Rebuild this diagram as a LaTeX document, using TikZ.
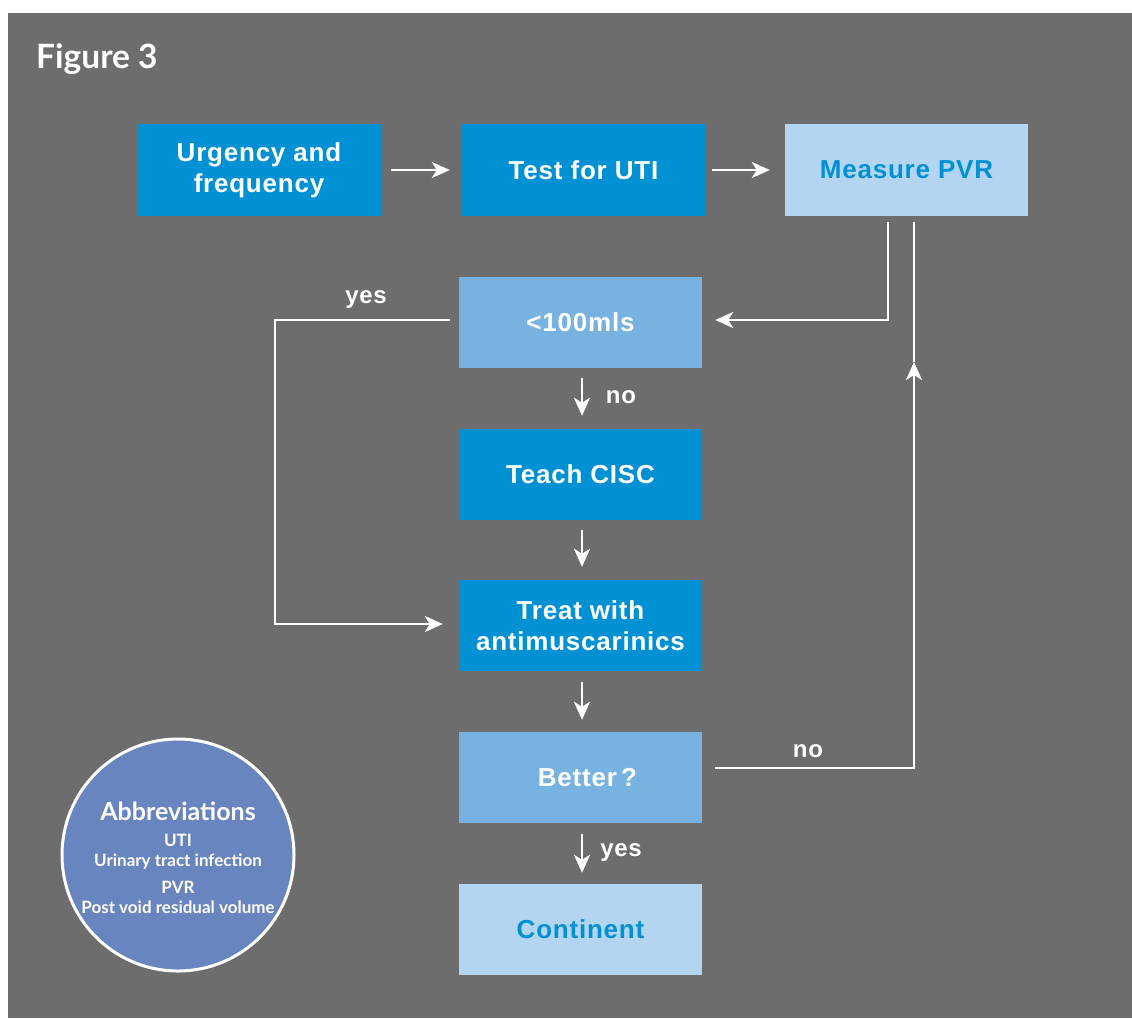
\documentclass[tikz,border=0pt]{standalone}
\usepackage{fontspec}
\usetikzlibrary{arrows.meta,calc}
\newfontfamily\boxfont[LetterSpace=3]{Liberation Sans}
\newfontfamily\latofont{Lato}
\definecolor{bggray}{HTML}{6D6D6D}
\definecolor{bluedark}{HTML}{0090D4}
\definecolor{bluemid}{HTML}{78B2E0}
\definecolor{bluelight}{HTML}{B3D5F1}
\definecolor{circblue}{HTML}{6985BF}
\begin{document}
\begin{tikzpicture}[x=1pt,y=-1pt,
  boxbase/.style={minimum width=243pt,minimum height=92pt,inner sep=0pt,align=center,
    font=\boxfont\bfseries\fontsize{26}{31}\selectfont},
  darkbox/.style={boxbase,fill=bluedark,text=white},
  midbox/.style={boxbase,fill=bluemid,text=white},
  lightbox/.style={boxbase,fill=bluelight,text=bluedark},
  conn/.style={draw=white,line width=2.5pt,-{Stealth[length=18pt,width=16pt,inset=5pt]}},
  plainconn/.style={draw=white,line width=2.5pt},
  lbl/.style={text=white,font=\boxfont\bfseries\fontsize{24}{28}\selectfont,inner sep=0pt}
  ]
\useasboundingbox (0,0) rectangle (1132,1018);
\fill[white] (0,0) rectangle (1132,1018);
\fill[bggray] (8,13) rectangle (1132,1018);

\node[text=white,font=\latofont\bfseries\fontsize{33.5}{40}\selectfont,anchor=west,inner sep=0pt] (title) at (36,59) {Figure 3};

\node[darkbox,minimum width=244pt] (urg) at (259,170) {\raisebox{-2pt}{\parbox{240pt}{\centering Urgency and\\frequency}}};
\node[darkbox] (uti) at (583.5,170) {\raisebox{-2pt}{Test for UTI}};
\node[lightbox] (pvr) at (906.5,170) {\raisebox{-2pt}{Measure PVR}};
\node[midbox,minimum height=91pt] (lt) at (580.5,322.5) {\raisebox{-2pt}{<100mls}};
\node[darkbox,minimum height=91pt] (cisc) at (580.5,474.5) {\raisebox{-2pt}{Teach CISC}};
\node[darkbox,minimum height=91pt] (treat) at (580.5,625.5) {\raisebox{-1pt}{\parbox{240pt}{\centering Treat with\\antimuscarinics}}};
\node[midbox,minimum height=91pt] (better) at (580.5,777.5) {\hspace*{14pt}\raisebox{-1pt}{Better\,?}};
\node[lightbox,minimum height=91pt] (cont) at (580.5,929.5) {\raisebox{-2pt}{Continent}};

% horizontal top arrows
\draw[conn,shorten <=10pt,shorten >=12pt] (urg.east) -- (uti.west);
\draw[conn,shorten <=7pt,shorten >=15pt] (uti.east) -- (pvr.west);

% PVR down to <100mls
\coordinate (pvrA) at ($(pvr.south)+(-18.5,6)$);
\coordinate (ltR) at ($(lt.east)+(0,-2.5)$);
\draw[conn,shorten >=13pt] (pvrA) |- (ltR);

% Better -> up (no)
\coordinate (betR) at ($(better.east)+(13,-9.5)$);
\coordinate (upTip) at (914,362);
\coordinate (pvrB) at ($(pvr.south)+(7.5,6)$);
\draw[conn] (betR) -| (upTip);
\draw[plainconn] (upTip) -- (pvrB);

% yes loop from <100mls to treat
\coordinate (ltL) at ($(lt.west)+(-9,-2.5)$);
\coordinate (yesCorner) at (275,320);
\coordinate (treatL) at ($(treat.west)+(0,-1.5)$);
\draw[conn,shorten >=16pt] (ltL) -- (yesCorner) |- (treatL);

% vertical short arrows
\draw[conn,shorten <=10pt,shorten >=13pt] ($(lt.south)+(1.5,0)$) -- ($(cisc.north)+(1.5,0)$);
\draw[conn,shorten <=10pt,shorten >=13pt] ($(cisc.south)+(1.5,0)$) -- ($(treat.north)+(1.5,0)$);
\draw[conn,shorten <=11pt,shorten >=12pt] ($(treat.south)+(1.5,0)$) -- ($(better.north)+(1.5,0)$);
\draw[conn,shorten <=11pt,shorten >=11pt] ($(better.south)+(1.5,0)$) -- ($(cont.north)+(1.5,0)$);

% labels
\node[lbl] (yes1) at (366,300) {yes};
\node[lbl] (no1) at (621,397) {no};
\node[lbl] (yes2) at (621,853) {yes};
\node[lbl] (no2) at (808,751) {no};

% abbreviations circle
\node[circle,fill=circblue,draw=white,line width=3pt,minimum size=232pt,inner sep=0pt] (abbr) at (178,855) {};
\node[text=white,font=\latofont\bfseries\fontsize{25}{30}\selectfont,inner sep=0pt] (abbrT) at (178,811) {Abbreviations};
\node[text=white,font=\latofont\bfseries\fontsize{17}{20}\selectfont,align=center,inner sep=0pt] (abbr1) at (178,852) {UTI\\Urinary tract infection};
\node[text=white,font=\latofont\bfseries\fontsize{17}{20}\selectfont,align=center,inner sep=0pt] (abbr2) at (178,897) {PVR\\Post void residual volume};
\end{tikzpicture}
\end{document}
